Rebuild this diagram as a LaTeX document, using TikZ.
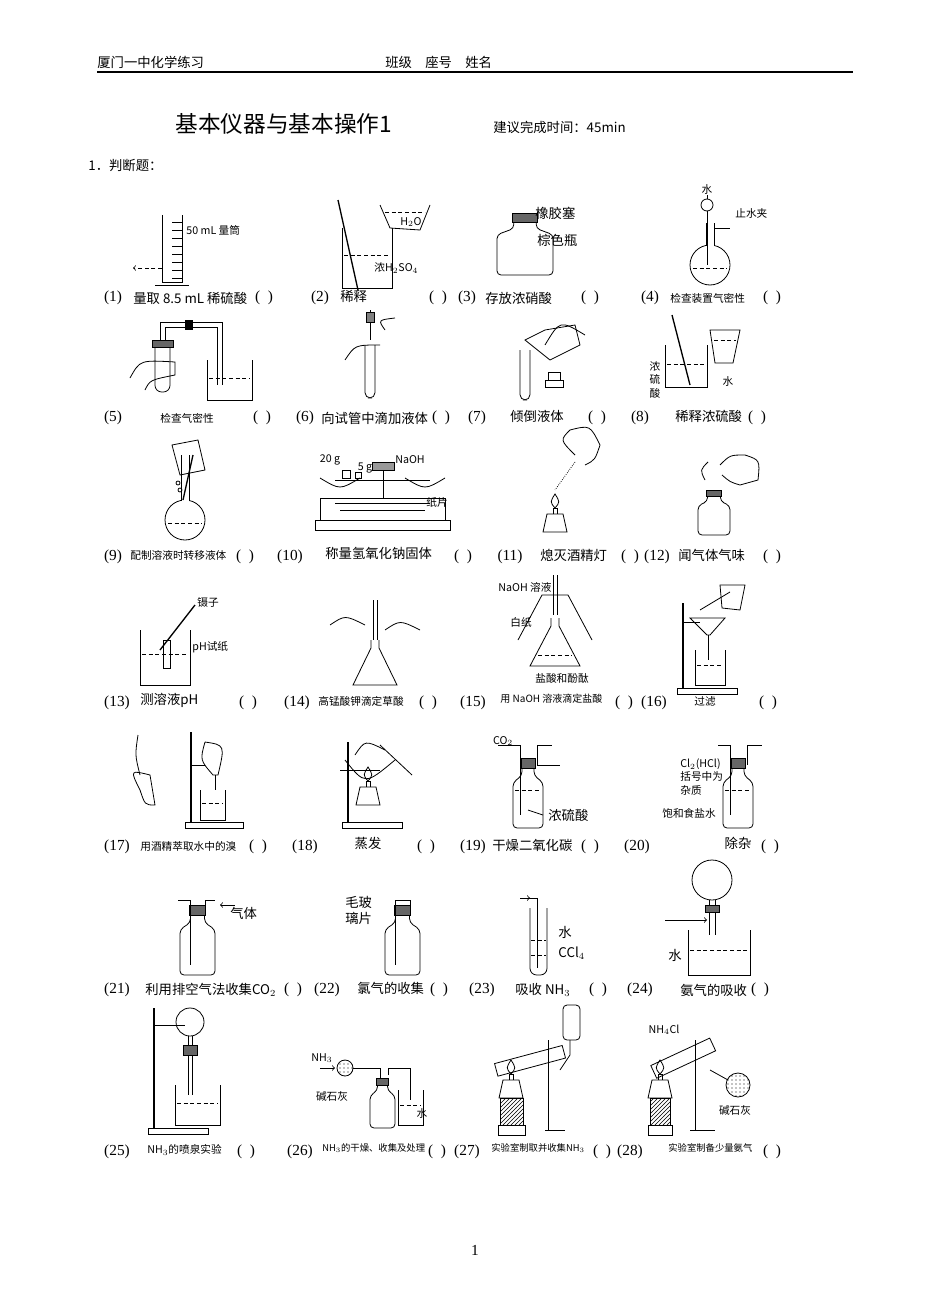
\documentclass[tikz,border=0pt]{standalone}
\usepackage{fontspec}
\setmainfont{Liberation Serif}
\newfontfamily\cjk{Noto Sans CJK SC}
\usetikzlibrary{patterns}
\newcommand\Bk[4]{\draw (#1,#2) -- (#1,#2+#4) -- (#1+#3,#2+#4) -- (#1+#3,#2);
 \draw[densely dashed] (#1+2,#2+0.45*#4) -- (#1+#3-2,#2+0.45*#4);}
\newcommand\Bt[4]{\draw[rounded corners=3] (#1+0.3*#3,#2+0.15*#4) -- (#1+0.3*#3,#2+0.25*#4) -- (#1,#2+0.35*#4) -- (#1,#2+#4) -- (#1+#3,#2+#4) -- (#1+#3,#2+0.35*#4) -- (#1+0.7*#3,#2+0.25*#4) -- (#1+0.7*#3,#2+0.15*#4);
 \draw[fill=black!60] (#1+0.27*#3,#2) rectangle (#1+0.73*#3,#2+0.15*#4);}
\newcommand\Fl[4]{\draw (#1,#2) circle (#3);
 \fill[white] (#1-3.7,#2-#3-1) rectangle (#1+3.7,#2-#3+2);
 \draw (#1-4,#2-#3+1) -- (#1-4,#2-#3-#4) (#1+4,#2-#3+1) -- (#1+4,#2-#3-#4);
 \draw[densely dashed] (#1-#3+3,#2+3) -- (#1+#3-3,#2+3);}
\newcommand\Er[4]{\draw (#1-4,#2) -- (#1-4,#2+8) -- (#1-#3,#2+#4) -- (#1+#3,#2+#4) -- (#1+4,#2+8) -- (#1+4,#2);}
\newcommand\St[4]{\draw (#1,#2) rectangle (#1+#3,#2+6); \draw[line width=1.2] (#1+6,#2) -- (#1+6,#2-#4);}
\newcommand\Lp[2]{\draw (#1-12,#2) -- (#1+12,#2) -- (#1+8,#2-18) -- (#1-8,#2-18) -- cycle; \draw (#1-2,#2-18) -- (#1-2,#2-24) -- (#1+2,#2-24) -- (#1+2,#2-18); \draw (#1,#2-24) .. controls (#1-5,#2-30) .. (#1,#2-38) .. controls (#1+5,#2-30) .. (#1,#2-24);}
\tikzset{t/.style={inner sep=0,font=\fontsize{10}{12}\selectfont\cjk},
 s/.style={inner sep=0,font=\fontsize{8}{10}\selectfont\cjk},
 n/.style={inner sep=0,font=\fontsize{11.5}{13}\selectfont},
 lq/.style={densely dashed}}
\begin{document}
\begin{tikzpicture}[x=0.75pt,y=-0.75pt,line width=0.6pt]
\useasboundingbox (0,0) rectangle (950,1316);
\fill[white] (0,0) rectangle (950,1316);
% header
\node[t,anchor=west] (h1) at (97,62) {厦门一中化学练习};
\node[t,anchor=west] (h2) at (385,62) {班级\quad 座号\quad 姓名};
\draw[line width=1] (97,72) -- (853,72);
\node[inner sep=0,font=\fontsize{17}{20}\selectfont\cjk,anchor=west] (tt) at (175,124) {基本仪器与基本操作1};
\node[t,anchor=west] (tm) at (493,127) {建议完成时间：45min};
\node[t,anchor=west] (q1) at (88,165) {1．判断题：};
\node[n] (pg) at (475,1250) {1};
% ---------- row 1 labels
\node[n] (a1) at (113,298) {(1)}; \node[t,anchor=west] (b1) at (133,298) {量取 8.5 mL 稀硫酸}; \node[n] (c1) at (264,298) {(\ \ )};
\node[n] (a2) at (320,298) {(2)}; \node[t,anchor=west] (b2) at (340,296) {稀释}; \node[n] (c2) at (438,298) {(\ \ )};
\node[n] (a3) at (467,298) {(3)}; \node[t,anchor=west] (b3) at (485,298) {存放浓硝酸}; \node[n] (c3) at (590,298) {(\ \ )};
\node[n] (a4) at (650,298) {(4)}; \node[s,anchor=west] (b4) at (670,298) {检查装置气密性}; \node[n] (c4) at (772,298) {(\ \ )};
% (1) cylinder
\draw (162,215) -- (162,282) -- (182,282) -- (182,215); \draw (155,285) -- (189,285);
\foreach \yy in {222,230,...,278} \draw (172,\yy) -- (182,\yy);
\node[s,anchor=west] (l1) at (186,230) {50 mL 量筒};
\draw[densely dashed,->] (162,268) -- (133,268);
% (2)
\Bk{342}{228}{50}{60}
\draw[line width=1] (338,200) -- (358,290);
\draw (380,205) -- (390,228) -- (420,230) -- (430,205);
\draw[lq] (385,212) -- (425,212);
\node[s,anchor=west] (l2a) at (400,222) {H$_2$O};
\node[s,anchor=west] (l2b) at (374,268) {浓H$_2$SO$_4$};
% (3)
\Bt{497}{213}{56}{62}
\node[t,anchor=west] (l3a) at (535,213) {橡胶塞}; \node[t,anchor=west] (l3b) at (537,240) {棕色瓶};
% (4)
\Fl{710}{265}{20}{22}
\draw (707,205) circle (6); \draw (707,211) -- (707,265); \draw (707,199) -- (707,195);
\node[s] (l4a) at (707,189) {水}; \draw (715,228) -- (730,228);
\node[s,anchor=west] (l4b) at (735,213) {止水夹};
% ---------- row 2
\node[n] (a5) at (113,418) {(5)}; \node[s,anchor=west] (b5) at (160,418) {检查气密性}; \node[n] (c5) at (262,418) {(\ \ )};
\node[n] (a6) at (305,418) {(6)}; \node[t,anchor=west] (b6) at (321,418) {向试管中滴加液体}; \node[n] (c6) at (441,418) {(\ \ )};
\node[n] (a7) at (477,418) {(7)}; \node[t,anchor=west] (b7) at (510,416) {倾倒液体}; \node[n] (c7) at (597,418) {(\ \ )};
\node[n] (a8) at (640,418) {(8)}; \node[t,anchor=west] (b8) at (675,416) {稀释浓硫酸}; \node[n] (c8) at (757,418) {(\ \ )};
% (5)
\draw[rounded corners=5] (155,340) -- (155,392) -- (170,392) -- (170,340);
\draw[fill=black!60] (152,340) rectangle (173,347);
\draw (160,340) -- (160,322) -- (222,322) -- (222,385) (165,340) -- (165,327) -- (217,327) -- (217,385);
\draw[fill=black] (185,320) rectangle (192,329);
\Bk{207}{360}{45}{40}
\draw (130,378) .. controls (140,360) .. (175,362) -- (175,375) .. controls (150,380) .. (145,390);
% (6)
\draw[rounded corners=4] (365,345) -- (365,398) -- (375,398) -- (375,345);
\draw (370,310) -- (370,340); \draw[fill=black!50] (366,312) rectangle (374,322);
\draw (345,360) .. controls (355,345) .. (380,345); \draw (385,330) .. controls (378,320) .. (395,318);
% (7)
\draw[rounded corners=4] (520,350) -- (520,400) -- (530,400) -- (530,350);
\draw (525,340) -- (545,330) -- (575,325) -- (580,345) -- (550,360) -- cycle;
\draw (545,345) .. controls (560,320) .. (585,335);
\draw (548,372) rectangle (560,380); \draw (545,380) rectangle (563,387);
% (8)
\Bk{665}{345}{42}{42}
\draw (710,330) -- (740,330) -- (733,363) -- (715,363) -- cycle; \draw[lq] (714,340) -- (736,340);
\draw[line width=1] (672,315) -- (690,385);
\node[s,align=center] (l8a) at (655,380) {浓\\硫\\酸}; \node[s] (l8b) at (728,381) {水};
% ---------- row 3
\node[n] (a9) at (113,557) {(9)}; \node[s,anchor=west] (b9) at (130,555) {配制溶液时转移液体}; \node[n] (c9) at (245,557) {(\ \ )};
\node[n] (a10) at (290,557) {(10)}; \node[t,anchor=west] (b10) at (325,553) {称量氢氧化钠固体}; \node[n] (c10) at (463,557) {(\ \ )};
\node[n] (a11) at (510,557) {(11)}; \node[t,anchor=west] (b11) at (540,555) {熄灭酒精灯}; \node[n] (c11) at (630,557) {(\ \ )};
\node[n] (a12) at (657,557) {(12)}; \node[t,anchor=west] (b12) at (678,555) {闻气体气味}; \node[n] (c12) at (772,557) {(\ \ )};
% (9)
\Fl{185}{520}{20}{45}
\draw (172,445) -- (198,440) -- (205,470) -- (180,475) -- cycle; \draw[line width=1] (193,455) -- (183,500);
\draw (178,483) circle (2) (180,490) circle (2);
% (10)
\draw (320,498) rectangle (445,520); \draw (315,520) rectangle (450,530);
\draw (335,503) -- (430,503); \draw (340,510) -- (425,510);
\draw (383,498) -- (383,470); \draw (335,480) -- (430,480);
\draw (320,478) .. controls (340,490) .. (360,478); \draw (405,478) .. controls (425,490) .. (445,478);
\draw[fill=black!40] (372,462) rectangle (394,470);
\node[s] (l10a) at (330,460) {20 g}; \node[s] (l10b) at (365,468) {5 g};
\node[s] (l10c) at (410,460) {NaOH}; \node[s] (l10d) at (437,502) {纸片};
\draw (342,470) rectangle (350,478) (355,472) rectangle (361,478);
% (11)
\Lp{555}{532}
\draw (575,455) .. controls (560,440) .. (570,430) .. controls (590,425) .. (600,445) .. controls (595,460) .. (585,465);
\draw[densely dotted] (575,462) -- (555,490);
% (12)
\Bt{698}{490}{32}{45}
\draw (720,465) .. controls (730,455) .. (745,455) .. controls (760,460) .. (758,480) -- (740,485) .. controls (730,482) .. (722,475);
\draw (705,480) .. controls (700,470) .. (708,462);
% ---------- row 4
\node[n] (a13) at (117,703) {(13)}; \node[t,anchor=west] (b13) at (140,700) {测溶液pH}; \node[n] (c13) at (248,703) {(\ \ )};
\node[n] (a14) at (297,703) {(14)}; \node[s,anchor=west] (b14) at (318,701) {高锰酸钾滴定草酸}; \node[n] (c14) at (428,703) {(\ \ )};
\node[n] (a15) at (473,703) {(15)}; \node[s,anchor=west,font=\fontsize{7.5}{9}\selectfont\cjk] (b15) at (500,699) {用 NaOH 溶液滴定盐酸}; \node[n] (c15) at (624,703) {(\ \ )};
\node[n] (a16) at (654,703) {(16)}; \node[s] (b16) at (705,701) {过滤}; \node[n] (c16) at (768,703) {(\ \ )};
% (13)
\Bk{140}{630}{50}{55}
\draw[line width=1] (160,650) -- (195,605); \draw (163,640) rectangle (170,668);
\node[s,anchor=west] (l13a) at (197,602) {镊子}; \node[s,anchor=west] (l13b) at (192,647) {pH试纸};
% (14)
\Er{375}{640}{22}{45}
\draw (373,600) -- (373,640) (377,600) -- (377,640);
\draw (330,625) .. controls (345,615) .. (365,625); \draw (385,630) .. controls (400,620) .. (420,630);
% (15)
\Er{555}{618}{25}{48}
\draw (518,640) -- (542,595) -- (568,595) -- (592,640);
\draw (553,575) -- (553,615) (557,575) -- (557,615);
\draw[lq] (538,655) -- (572,655);
\node[s,anchor=west] (l15a) at (498,587) {NaOH 溶液}; \node[s,anchor=west] (l15b) at (510,622) {白纸};
\node[s,anchor=west] (l15c) at (535,678) {盐酸和酚酞};
% (16)
\St{677}{688}{60}{85}
\draw (683,622) -- (700,622); \draw (690,618) -- (725,618) -- (710,635) -- (707,635) -- cycle; \draw (708,635) -- (708,660);
\Bk{695}{650}{30}{35}
\draw (720,585) -- (745,585) -- (740,610) -- (722,608) -- cycle; \draw (730,592) -- (700,610);
% ---------- row 5
\node[n] (a17) at (117,847) {(17)}; \node[s,anchor=west] (b17) at (140,846) {用酒精萃取水中的溴}; \node[n] (c17) at (258,847) {(\ \ )};
\node[n] (a18) at (305,847) {(18)}; \node[t] (b18) at (368,843) {蒸发}; \node[n] (c18) at (426,847) {(\ \ )};
\node[n] (a19) at (473,847) {(19)}; \node[t,anchor=west] (b19) at (492,845) {干燥二氧化碳}; \node[n] (c19) at (590,847) {(\ \ )};
\node[n] (a20) at (637,847) {(20)}; \node[t] (b20) at (738,843) {除杂}; \node[n] (c20) at (770,847) {(\ \ )};
% (17)
\St{185}{822}{58}{90}
\draw (191,765) -- (205,765); \draw (205,742) .. controls (225,745) .. (218,775) -- (213,775) .. controls (200,760) .. (205,742);
\draw (215,775) -- (215,790); \Bk{200}{790}{25}{30}
\draw (140,790) .. controls (130,770) .. (150,775) -- (155,805) .. controls (145,805) .. (140,790);
\draw (140,775) .. controls (135,755) .. (138,735);
% (18)
\St{342}{822}{60}{80}
\draw (340,770) -- (380,770); \draw (345,760) .. controls (365,785) .. (395,760);
\Lp{368}{805}
\draw (380,745) -- (412,775); \draw (355,755) .. controls (365,740) .. (385,750);
% (19)
\Bt{513}{758}{30}{70} \draw (520,745) -- (520,815) (537,745) -- (537,765) -- (560,765);
\draw (498,745) -- (520,745); \draw (537,745) -- (552,745);
\draw[lq] (515,790) -- (541,790);
\node[s] (l19a) at (503,741) {CO$_2$}; \node[t,anchor=west] (l19b) at (548,815) {浓硫酸};
\draw (543,815) -- (528,810);
% (20)
\Bt{723}{758}{30}{70} \draw (730,745) -- (730,815) (747,745) -- (747,765);
\draw (718,745) -- (730,745); \draw (747,745) -- (762,745);
\draw[lq] (725,790) -- (751,790);
\node[s,anchor=west,align=left] (l20a) at (680,777) {Cl$_2$(HCl)\\括号中为\\杂质};
\node[s,anchor=west] (l20b) at (662,813) {饱和食盐水};
% ---------- row 6
\node[n] (a21) at (117,990) {(21)}; \node[t,anchor=west] (b21) at (145,990) {利用排空气法收集CO$_2$}; \node[n] (c21) at (293,990) {(\ \ )};
\node[n] (a22) at (327,990) {(22)}; \node[t,anchor=west] (b22) at (357,988) {氯气的收集}; \node[n] (c22) at (439,990) {(\ \ )};
\node[n] (a23) at (482,990) {(23)}; \node[t,anchor=west] (b23) at (515,990) {吸收 NH$_3$}; \node[n] (c23) at (598,990) {(\ \ )};
\node[n] (a24) at (640,990) {(24)}; \node[t,anchor=west] (b24) at (680,990) {氨气的吸收}; \node[n] (c24) at (760,990) {(\ \ )};
% (21)
\Bt{180}{905}{35}{70} \draw (190,900) -- (190,965) (205,900) -- (205,915);
\draw (178,900) -- (190,900) (205,900) -- (215,900);
\draw[<-] (220,905) -- (235,905); \node[t,anchor=west] (l21) at (230,913) {气体};
% (22)
\Bt{385}{905}{35}{70} \draw (395,900) -- (395,965) (410,900) -- (410,915);
\draw (395,900) -- (410,900);
\node[t,anchor=west,align=left] (l22) at (345,910) {毛玻\\璃片};
% (23)
\draw[rounded corners=5] (530,908) -- (530,975) -- (547,975) -- (547,908);
\draw (520,898) -- (537,898) -- (537,968);
\draw[->] (520,898) -- (530,898);
\draw[lq] (531,940) -- (546,940); \draw[lq] (531,955) -- (546,955);
\node[t,anchor=west] (l23a) at (558,932) {水}; \node[t,anchor=west] (l23b) at (558,953) {CCl$_4$};
% (24)
\Bk{688}{930}{62}{45}
\draw (712,880) circle (20); \draw (709,900) -- (709,935) (715,900) -- (715,935);
\draw[fill=black!60] (705,905) rectangle (719,912);
\draw[->] (665,920) -- (707,920);
\node[t] (l24) at (675,955) {水};
% ---------- row 7
\node[n] (a25) at (117,1152) {(25)}; \node[s,anchor=west] (b25) at (147,1150) {NH$_3$的喷泉实验}; \node[n] (c25) at (246,1152) {(\ \ )};
\node[n] (a26) at (300,1152) {(26)}; \node[s,anchor=west,font=\fontsize{7}{9}\selectfont\cjk] (b26) at (322,1148) {NH$_3$的干燥、收集及处理}; \node[n] (c26) at (437,1152) {(\ \ )};
\node[n] (a27) at (467,1152) {(27)}; \node[s,anchor=west,font=\fontsize{7}{9}\selectfont\cjk] (b27) at (491,1148) {实验室制取并收集NH$_3$}; \node[n] (c27) at (602,1152) {(\ \ )};
\node[n] (a28) at (630,1152) {(28)}; \node[s,anchor=west,font=\fontsize{7}{9}\selectfont\cjk] (b28) at (668,1148) {实验室制备少量氨气}; \node[n] (c28) at (772,1152) {(\ \ )};
% (25)
\St{148}{1128}{60}{120}
\draw (154,1025) -- (185,1025);
\draw (190,1022) circle (14); \draw (188,1036) -- (188,1095) (192,1036) -- (192,1095);
\draw[fill=black!60] (183,1045) rectangle (197,1055);
\Bk{175}{1085}{45}{40}
% (26)
\node[s] (l26a) at (322,1058) {NH$_3$};
\draw[->] (320,1068) -- (335,1068);
\draw[pattern=dots] (345,1068) circle (8);
\node[s] (l26b) at (332,1096) {碱石灰};
\draw (353,1068) -- (380,1068) -- (380,1080);
\Bt{370}{1078}{25}{50}
\draw (388,1075) -- (388,1068) -- (410,1068) -- (410,1100);
\Bk{398}{1090}{25}{35}
\node[s] (l26c) at (422,1113) {水};
% (27)
\draw (498,1125) rectangle (525,1135); \draw[pattern=north east lines] (500,1098) rectangle (523,1125);
\Lp{511}{1098}
\draw (545,1130) -- (565,1130) (548,1130) -- (548,1040);
\draw[rotate around={15:(535,1060)}] (495,1053) rectangle (565,1066);
\draw (560,1070) -- (570,1055) -- (570,1040);
\draw[rounded corners=3] (563,1005) rectangle (580,1040);
% (28)
\node[s] (l28a) at (664,1030) {NH$_4$Cl};
\draw (648,1125) rectangle (672,1135); \draw[pattern=north east lines] (650,1098) rectangle (670,1125);
\Lp{660}{1098}
\draw (690,1130) -- (715,1130) (695,1130) -- (695,1040);
\draw[rotate around={25:(690,1055)}] (650,1048) rectangle (715,1062);
\draw[pattern=dots] (738,1085) circle (12);
\draw (710,1070) -- (728,1080);
\node[s] (l28b) at (735,1110) {碱石灰};
\end{tikzpicture}
\end{document}
